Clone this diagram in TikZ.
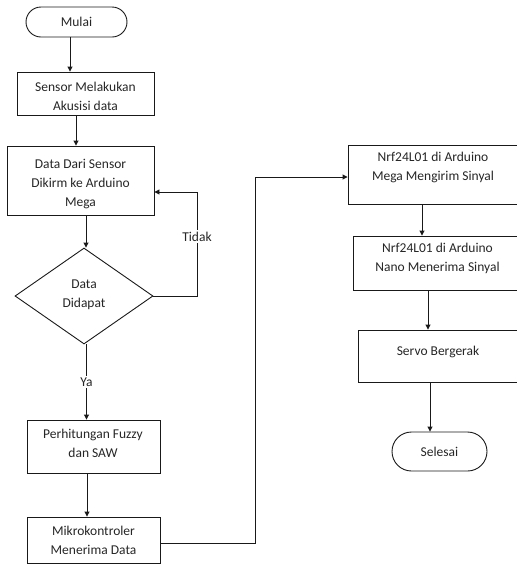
\documentclass[tikz,border=0pt]{standalone}
\usepackage{fontspec}
\setmainfont{Carlito}
\usetikzlibrary{shapes.geometric,arrows.meta,calc}
\begin{document}
\begin{tikzpicture}[x=1pt,y=-1pt,
  line width=0.9pt, draw=black!90,
  box/.style={draw, rectangle, inner sep=0pt},
  term/.style={draw, rectangle, inner sep=0pt, font=\fontsize{13.5}{19}\selectfont, text=black!85},
  dia/.style={draw, diamond, inner sep=0pt},
  txt/.style={align=center, inner sep=0pt, font=\fontsize{13.5}{19}\selectfont, text=black!85},
  lab/.style={fill=white, inner sep=1.5pt, font=\fontsize{13.5}{19}\selectfont, text=black!85},
  arr/.style={-{Triangle[length=5pt,width=5pt]}}
]
\useasboundingbox (0,0) rectangle (517,566);
\clip (0,0) rectangle (517,566);

\node[term, minimum width=101pt, minimum height=30pt, rounded corners=15pt] (mulai) at (76.5,22) {Mulai};

\node[box, minimum width=137pt, minimum height=43pt] (s1) at (85.5,93.5) {};
\node[txt] (t1) at (85.5,96.5) {Sensor Melakukan\\Akusisi data};

\node[box, minimum width=147pt, minimum height=69pt] (s2) at (80.5,180.5) {};
\node[txt] (t2) at (80.5,184) {Data Dari Sensor\\Dikirm ke Arduino\\Mega};

\node[dia, minimum width=138pt, minimum height=96pt] (d) at (84,296) {};
\node[txt] (td) at (84,295) {Data\\Didapat};

\node[box, minimum width=133pt, minimum height=53pt] (s3) at (93.5,446.5) {};
\node[txt] (t3) at (93,443.5) {Perhitungan Fuzzy\\dan SAW};

\node[box, minimum width=133pt, minimum height=46pt] (s4) at (93.5,540) {};
\node[txt] (t4) at (93.5,540) {Mikrokontroler\\Menerima Data};

\node[box, minimum width=171pt, minimum height=59pt] (s5) at (433.5,174.5) {};
\node[txt] (t5) at (433,167.5) {Nrf24L01 di Arduino\\Mega Mengirim Sinyal};

\node[box, minimum width=169pt, minimum height=54pt] (s6) at (437.5,263) {};
\node[txt] (t6) at (437.5,258) {Nrf24L01 di Arduino\\Nano Menerima Sinyal};

\node[box, minimum width=160pt, minimum height=52pt] (s7) at (438,356) {};
\node[txt] (t7) at (438,352) {Servo Bergerak};

\node[term, minimum width=95pt, minimum height=39pt, rounded corners=19.5pt] (selesai) at (439.5,451.5) {Selesai};

% connectors
\draw[arr] ([xshift=-6.5pt]mulai.south) -- ([xshift=-6.5pt]mulai.south |- s1.north);
\draw[arr] ([xshift=-9.5pt]s1.south) -- ([xshift=-9.5pt]s1.south |- s2.north);
\draw[arr] ([xshift=5.5pt]s2.south) -- ([xshift=5.5pt]s2.south |- d.north);
\draw[arr] ([xshift=2.5pt]d.south) -- node[lab, pos=0.5] (lya) {Ya} ([xshift=2.5pt]d.south |- s3.north);
\draw[arr] ([xshift=-6.5pt]s3.south) -- ([xshift=-6.5pt]s3.south |- s4.north);

\coordinate (c1) at (197,296);
\coordinate (c2) at (197,192);
\draw[arr] (d.east) -- (c1) -- node[lab, pos=0.57] (ltidak) {Tidak} (c2) -- (c2 -| s2.east);

\coordinate (c3) at (255,543);
\coordinate (c4) at (255,177);
\draw[arr] (s4.east |- c3) -- (c3) -- (c4) -- (c4 -| s5.west);

\draw[arr] ([xshift=-11.5pt]s5.south) -- ([xshift=-11.5pt]s5.south |- s6.north);
\draw[arr] ([xshift=-9.5pt]s6.south) -- ([xshift=-9.5pt]s6.south |- s7.north);
\draw[arr] ([xshift=-8pt]s7.south) -- ([xshift=-8pt]s7.south |- selesai.north);
\end{tikzpicture}
\end{document}
